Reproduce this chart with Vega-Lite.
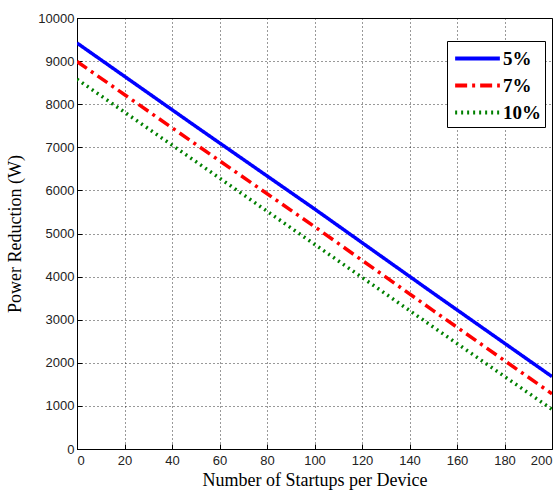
{
  "$schema": "https://vega.github.io/schema/vega-lite/v6.json",
  "autosize": {"type": "none"},
  "width": 475,
  "height": 431,
  "padding": {"left": 77, "top": 18, "right": 8, "bottom": 43},
  "background": "white",
  "config": {
    "view": {"stroke": "black", "strokeWidth": 1},
    "axis": {
      "domainColor": "black",
      "tickColor": "black",
      "tickSize": -5,
      "labelFont": "Liberation Sans",
      "labelFontSize": 13,
      "labelColor": "#222",
      "titleFont": "Liberation Serif",
      "titleFontSize": 18,
      "titleFontWeight": "normal",
      "titleColor": "black",
      "gridColor": "black",
      "gridDash": [1, 3],
      "gridOpacity": 0.8,
      "gridWidth": 1
    }
  },
  "data": {
    "values": [
      {"n": 0, "p": 9420, "s": "5%"},
      {"n": 50, "p": 7485, "s": "5%"},
      {"n": 100, "p": 5570, "s": "5%"},
      {"n": 150, "p": 3615, "s": "5%"},
      {"n": 200, "p": 1680, "s": "5%"},
      {"n": 0, "p": 8990, "s": "7%"},
      {"n": 50, "p": 7070, "s": "7%"},
      {"n": 100, "p": 5160, "s": "7%"},
      {"n": 150, "p": 3210, "s": "7%"},
      {"n": 200, "p": 1280, "s": "7%"},
      {"n": 0, "p": 8580, "s": "10%"},
      {"n": 50, "p": 6670, "s": "10%"},
      {"n": 100, "p": 4750, "s": "10%"},
      {"n": 150, "p": 2830, "s": "10%"},
      {"n": 200, "p": 920, "s": "10%"}
    ]
  },
  "mark": {"type": "line", "strokeWidth": 3.5, "clip": true},
  "encoding": {
    "x": {
      "field": "n", "type": "quantitative",
      "scale": {"domain": [0, 200], "nice": false, "zero": false},
      "axis": {
        "title": "Number of Startups per Device",
        "values": [0, 20, 40, 60, 80, 100, 120, 140, 160, 180, 200],
        "format": "d",
        "labelPadding": 10,
        "titlePadding": 4
      }
    },
    "y": {
      "field": "p", "type": "quantitative",
      "scale": {"domain": [0, 10000], "nice": false},
      "axis": {
        "title": "Power Reduction (W)",
        "values": [0, 1000, 2000, 3000, 4000, 5000, 6000, 7000, 8000, 9000, 10000],
        "format": "d",
        "labelPadding": 8,
        "titlePadding": 13
      }
    },
    "color": {
      "field": "s", "type": "nominal",
      "scale": {"domain": ["5%", "7%", "10%"], "range": ["#0000ff", "#ff0000", "#008000"]},
      "legend": {
        "title": null,
        "orient": "none",
        "legendX": 370,
        "legendY": 23,
        "direction": "vertical",
        "fillColor": "white",
        "strokeColor": "black",
        "padding": 4,
        "rowPadding": 3,
        "symbolType": "M-2,0H2",
        "symbolSize": 500,
        "symbolOffset": 13,
        "symbolStrokeWidth": 4,
        "labelFont": "Liberation Serif",
        "labelFontSize": 19,
        "labelFontWeight": "bold",
        "labelColor": "black",
        "labelOffset": 12
      }
    },
    "strokeDash": {
      "field": "s", "type": "nominal",
      "scale": {"domain": ["5%", "7%", "10%"], "range": [[1, 0], [12, 5, 3, 5], [2, 4]]},
      "legend": null
    }
  }
}
